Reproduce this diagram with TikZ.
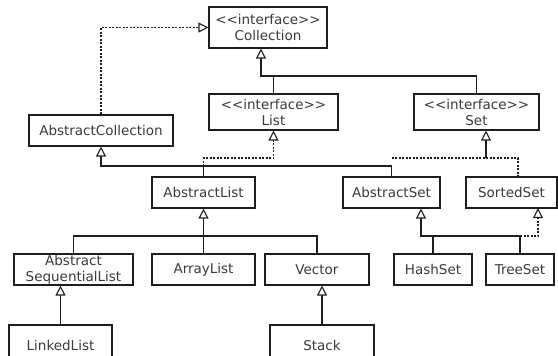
\documentclass[tikz,border=0pt]{standalone}
\usepackage{fontspec}
\setmainfont{DejaVu Sans}
\usetikzlibrary{arrows.meta}
\definecolor{umltext}{HTML}{3A3A3A}
\definecolor{umlline}{HTML}{1E1E1E}
\newcommand{\ifacetag}{<\kern0pt<interface>\kern0pt>}

\begin{document}
\begin{tikzpicture}[
    x=1pt, y=-1pt,
    cls/.style={rectangle, draw=umlline, line width=1.1pt, text=umltext,
                inner sep=1pt, minimum height=31pt, align=center,
                font=\fontsize{13.5}{16}\selectfont},
    link/.style={line width=1.1pt, umlline},
    dsh/.style={link, dash pattern=on 2pt off 1.5pt},
    gen/.style={link, -{Triangle[open, length=10pt, width=10pt, fill=white]}},
    real/.style={dsh, -{Triangle[open, length=10pt, width=10pt, fill=white]}}
]
\useasboundingbox (0,0) rectangle (558,356);
\clip (0,0) rectangle (558,356);

% interfaces
\node[cls, minimum width=118pt, minimum height=41pt] (coll) at (268,27.5) {\ifacetag\\Collection};
\node[cls, minimum width=129pt, minimum height=36pt] (list) at (273.5,112) {\ifacetag\\List};
\node[cls, minimum width=125pt, minimum height=36pt] (set) at (476.5,112) {\ifacetag\\Set};
\node[cls, minimum width=91pt] (sortedset) at (511.5,192.5) {SortedSet};

% abstract classes
\node[cls, minimum width=144pt] (abscoll) at (101,130.5) {AbstractCollection};
\node[cls, minimum width=103pt] (abslist) at (203.5,192.5) {AbstractList};
\node[cls, minimum width=97pt] (absset) at (391.5,192.5) {AbstractSet};
\node[cls, minimum width=119pt] (absseq) at (73.5,269.5) {Abstract\\SequentialList};

% concrete classes
\node[cls, minimum width=103pt] (arraylist) at (203.5,269.5) {ArrayList};
\node[cls, minimum width=104pt] (vector) at (317,269.5) {Vector};
\node[cls, minimum width=78pt] (hashset) at (433,269.5) {HashSet};
\node[cls, minimum width=68pt] (treeset) at (520,269.5) {TreeSet};
\node[cls, minimum width=103pt, minimum height=41pt] (linkedlist) at (60.5,345.5) {LinkedList};
\node[cls, minimum width=104pt, minimum height=41pt] (stack) at (322,345.5) {Stack};

% bus points
\coordinate (cbus) at (261,76);
\coordinate (acbus) at (101,166);
\coordinate (lbus) at (273.5,158);
\coordinate (sbus) at (486,158);
\coordinate (ssin) at (518,177);
\coordinate (ssout) at (538,208);
\coordinate (lsbus) at (203.5,236);
\coordinate (hbus) at (421,236);

% Collection hierarchy
\draw[real] (abscoll.north) |- (coll.west);
\draw[gen] (list.north) |- (cbus) -- (coll.south -| cbus);
\draw[link] (set.north) |- (cbus);

% AbstractCollection subclasses
\draw[gen] (absset.north) |- (acbus) -- (abscoll.south);
\draw[link] (abslist.north) -- (abslist.north |- acbus);
\draw[real] (abslist.north |- acbus) |- (lbus) -- (list.south);

% Set implementations
\draw[dsh] (absset.north |- sbus) -| (ssin);
\draw[gen] (sbus) -- (set.south -| sbus);

% list classes
\draw[link] (absseq.north) |- (vector.north |- lsbus) -- (vector.north);
\draw[gen] (arraylist.north) -- (abslist.south);
\draw[gen] (linkedlist.north) -- (absseq.south -| linkedlist.north);
\draw[gen] (stack.north) -- (vector.south -| stack.north);

% set classes
\draw[gen] (treeset.north) |- (hbus) -- (absset.south -| hbus);
\draw[link] (hashset.north) -- (hashset.north |- hbus);
\draw[real] (treeset.north |- hbus) -| (ssout);
\end{tikzpicture}
\end{document}
